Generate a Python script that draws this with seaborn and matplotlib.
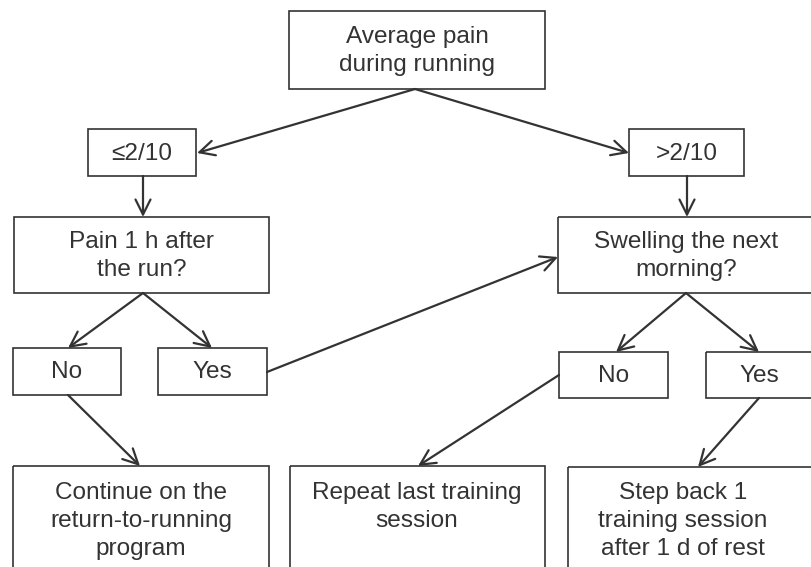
import matplotlib
matplotlib.use('Agg')
import matplotlib.pyplot as plt
import seaborn as sns
from matplotlib.patches import Rectangle

sns.set_theme(style='white')
plt.rcParams['font.family'] = ['Liberation Sans', 'DejaVu Sans']

# node labels
labels = {
    'start': 'Average pain\nduring running',
    'low': '≤2/10',
    'high': '>2/10',
    'pain1h': 'Pain 1 h after\nthe run?',
    'swelling': 'Swelling the next\nmorning?',
    'no_l': 'No',
    'yes_l': 'Yes',
    'no_r': 'No',
    'yes_r': 'Yes',
    'continue': 'Continue on the\nreturn-to-running\nprogram',
    'repeat': 'Repeat last training\nsession',
    'stepback': 'Step back 1\ntraining session\nafter 1 d of rest',
}

# edges (from, to)
edges = [
    ('start', 'low'), ('start', 'high'),
    ('low', 'pain1h'), ('high', 'swelling'),
    ('pain1h', 'no_l'), ('pain1h', 'yes_l'),
    ('swelling', 'no_r'), ('swelling', 'yes_r'),
    ('yes_l', 'swelling'),
    ('no_l', 'continue'), ('no_r', 'repeat'), ('yes_r', 'stepback'),
]

# layout in pixel space: x0, y0, x1, y1 (y downward)
boxes = {
    'start': (289, 11, 545, 89),
    'low': (88, 129, 196, 176),
    'high': (629, 129, 744, 176),
    'pain1h': (14, 217, 269, 293),
    'swelling': (558, 217, 815, 293),
    'no_l': (13, 348, 121, 395),
    'yes_l': (158, 348, 267, 395),
    'no_r': (559, 352, 668, 398),
    'yes_r': (706, 352, 815, 398),
    'continue': (13, 466, 269, 600),
    'repeat': (290, 466, 545, 600),
    'stepback': (568, 467, 825, 600),
}

# text centres where the box is cut off by the image edge
text_pos = {
    'swelling': (686, 256),
    'yes_r': (759, 376),
    'continue': (141, 521),
    'repeat': (417, 507),
    'stepback': (683, 521),
}

# arrow anchor points (start, end) for each edge
anchors = {
    ('start', 'low'): ((415, 89), (197, 153)),
    ('start', 'high'): ((415, 89), (629, 153)),
    ('low', 'pain1h'): ((143, 176), (143, 217)),
    ('high', 'swelling'): ((687, 176), (687, 217)),
    ('pain1h', 'no_l'): ((143, 293), (68, 348)),
    ('pain1h', 'yes_l'): ((143, 293), (212, 348)),
    ('swelling', 'no_r'): ((686, 293), (616, 352)),
    ('swelling', 'yes_r'): ((686, 293), (759, 352)),
    ('yes_l', 'swelling'): ((267, 372), (558, 257)),
    ('no_l', 'continue'): ((68, 395), (140, 466)),
    ('no_r', 'repeat'): ((559, 375), (418, 466)),
    ('yes_r', 'stepback'): ((759, 398), (698, 467)),
}

ink = '#333333'

fig = plt.figure(figsize=(8.12, 5.67), dpi=100)
ax = fig.add_axes([0, 0, 1, 1])
ax.set_xlim(0, 812)
ax.set_ylim(567, 0)
ax.axis('off')

for key, (x0, y0, x1, y1) in boxes.items():
    ax.add_patch(Rectangle((x0, y0), x1 - x0, y1 - y0, fill=False,
                           edgecolor=ink, lw=1.2))
    tx, ty = text_pos.get(key, ((x0 + x1) / 2, (y0 + y1) / 2 + 1))
    ax.text(tx, ty, labels[key], ha='center', va='center',
            fontsize=17.6, color=ink, linespacing=1.36)

for e in edges:
    p0, p1 = anchors[e]
    ax.annotate('', xy=p1, xytext=p0,
                arrowprops=dict(arrowstyle='->,head_length=0.9,head_width=0.45',
                                color=ink, lw=1.6, shrinkA=0, shrinkB=0))

fig.savefig('out.png', dpi=100)
